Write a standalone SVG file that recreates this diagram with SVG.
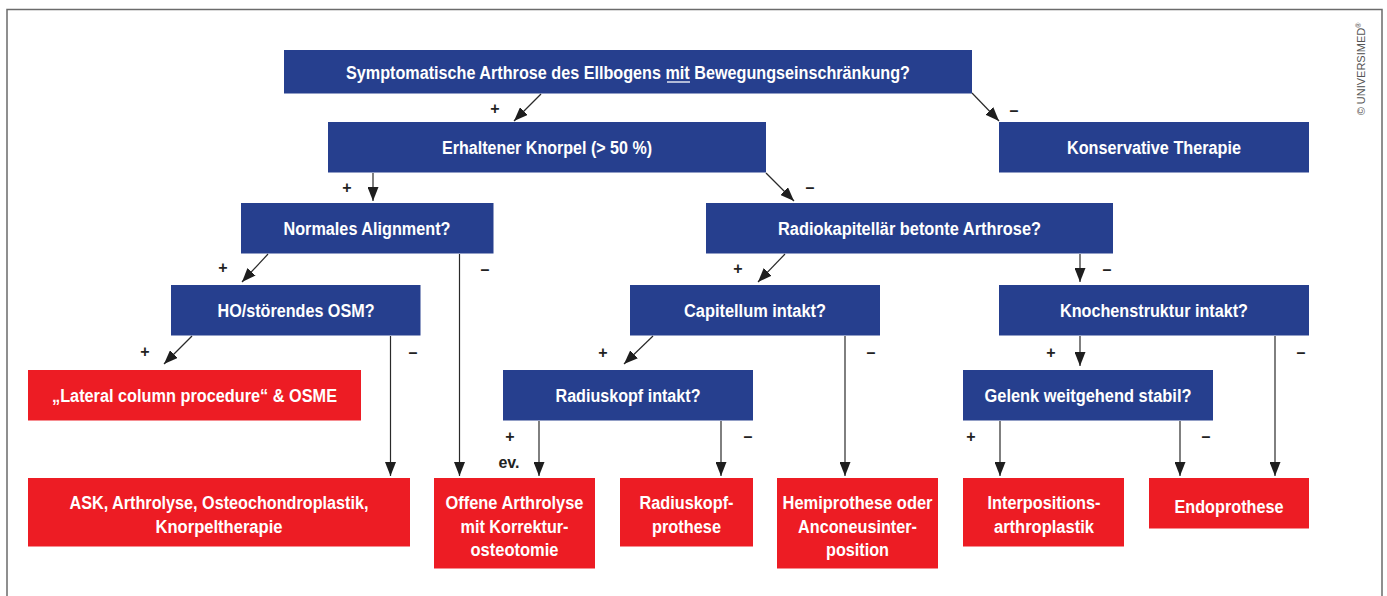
<svg xmlns="http://www.w3.org/2000/svg" width="1387" height="596" viewBox="0 0 1387 596">
<style>
.b{fill:#263f8e}
.r{fill:#ed1c24}
.t{font-family:"Liberation Sans",Arial,sans-serif;font-weight:bold;font-size:18px;fill:#fff;text-anchor:middle}
.l{font-family:"Liberation Sans",Arial,sans-serif;font-weight:bold;font-size:16px;fill:#222;text-anchor:middle}
.c{stroke:#2a2a2a;stroke-width:1.2;fill:none;marker-end:url(#ah)}
</style>
<defs>
<marker id="ah" markerUnits="userSpaceOnUse" markerWidth="14" markerHeight="11" refX="14" refY="5.5" orient="auto">
<path d="M0,0 L14,5.5 L0,11 z" fill="#1e1e1e"/>
</marker>
</defs>
<rect width="1387" height="596" fill="#fff"/>
<path d="M7,600 V9.5 H1382 V600" fill="none" stroke="#6b6b6b" stroke-width="1.5"/>
<text transform="translate(1365,69) rotate(-90)" font-family="'Liberation Sans',Arial,sans-serif" font-size="11" fill="#555" text-anchor="middle">© UNIVERSIMED<tspan font-size="7" dy="-4">®</tspan></text>

<g id="connectors">
<line class="c" x1="541" y1="94" x2="514" y2="121"/>
<line class="c" x1="972" y1="93" x2="999" y2="121"/>
<line class="c" x1="373" y1="173" x2="373" y2="201"/>
<line class="c" x1="766" y1="173" x2="794" y2="201"/>
<line class="c" x1="268" y1="254" x2="242" y2="282"/>
<line class="c" x1="459.5" y1="254" x2="459.5" y2="476"/>
<line class="c" x1="192" y1="336" x2="164" y2="364"/>
<line class="c" x1="390.5" y1="336" x2="390.5" y2="476"/>
<line class="c" x1="785" y1="254" x2="758" y2="282"/>
<line class="c" x1="1080" y1="254" x2="1080" y2="282"/>
<line class="c" x1="653" y1="336" x2="624" y2="364"/>
<line class="c" x1="845" y1="336" x2="845" y2="476"/>
<line class="c" x1="1080" y1="336" x2="1080" y2="366"/>
<line class="c" x1="1275" y1="336" x2="1275" y2="476"/>
<line class="c" x1="539" y1="421" x2="539" y2="476"/>
<line class="c" x1="721" y1="421" x2="721" y2="476"/>
<line class="c" x1="1000" y1="421" x2="1000" y2="476"/>
<line class="c" x1="1180" y1="421" x2="1180" y2="476"/>
<text class="l" x="495" y="114">+</text>
<text class="l" x="1014" y="116">–</text>
<text class="l" x="347" y="193">+</text>
<text class="l" x="810" y="193">–</text>
<text class="l" x="223" y="273">+</text>
<text class="l" x="485" y="275">–</text>
<text class="l" x="145" y="357">+</text>
<text class="l" x="413" y="358">–</text>
<text class="l" x="738" y="274">+</text>
<text class="l" x="1107" y="275">–</text>
<text class="l" x="603" y="358">+</text>
<text class="l" x="871" y="358">–</text>
<text class="l" x="1051" y="358">+</text>
<text class="l" x="1301" y="358">–</text>
<text class="l" x="510" y="442">+</text>
<text class="l" x="509" y="468" font-size="17" textLength="21" lengthAdjust="spacingAndGlyphs">ev.</text>
<text class="l" x="748" y="442">–</text>
<text class="l" x="971" y="442">+</text>
<text class="l" x="1206" y="442">–</text>
</g>

<g id="n-top">
<rect class="b" x="284" y="50" width="688" height="43.5"/>
<text class="t" x="628" y="78.5" textLength="564" lengthAdjust="spacingAndGlyphs">Symptomatische Arthrose des Ellbogens mit Bewegungseinschränkung?</text>
<line x1="667" y1="82" x2="690" y2="82" stroke="#fff" stroke-width="1.3"/>
</g>
<g id="n-knorpel">
<rect class="b" x="328" y="122" width="438" height="50.5"/>
<text class="t" x="547" y="154" textLength="210" lengthAdjust="spacingAndGlyphs">Erhaltener Knorpel (&gt; 50 %)</text>
</g>
<g id="n-konservativ">
<rect class="b" x="999" y="122" width="310" height="50.5"/>
<text class="t" x="1154" y="154" textLength="174" lengthAdjust="spacingAndGlyphs">Konservative Therapie</text>
</g>
<g id="n-alignment">
<rect class="b" x="241" y="203" width="252.5" height="50.5"/>
<text class="t" x="367" y="235" textLength="167" lengthAdjust="spacingAndGlyphs">Normales Alignment?</text>
</g>
<g id="n-radiokap">
<rect class="b" x="706" y="203" width="407" height="50.5"/>
<text class="t" x="909.5" y="235" textLength="263" lengthAdjust="spacingAndGlyphs">Radiokapitellär betonte Arthrose?</text>
</g>
<g id="n-ho">
<rect class="b" x="171" y="285" width="249.5" height="50.5"/>
<text class="t" x="296" y="317" textLength="157" lengthAdjust="spacingAndGlyphs">HO/störendes OSM?</text>
</g>
<g id="n-capitellum">
<rect class="b" x="630" y="285" width="250" height="50.5"/>
<text class="t" x="755" y="317" textLength="142" lengthAdjust="spacingAndGlyphs">Capitellum intakt?</text>
</g>
<g id="n-knochen">
<rect class="b" x="999" y="285" width="310" height="50.5"/>
<text class="t" x="1154" y="317" textLength="188" lengthAdjust="spacingAndGlyphs">Knochenstruktur intakt?</text>
</g>
<g id="n-lateral">
<rect class="r" x="28" y="370" width="333" height="50.5"/>
<text class="t" x="194.5" y="402" textLength="285" lengthAdjust="spacingAndGlyphs">„Lateral column procedure“ &amp; OSME</text>
</g>
<g id="n-radiuskopf">
<rect class="b" x="503" y="370" width="250" height="50.5"/>
<text class="t" x="628" y="402" textLength="145" lengthAdjust="spacingAndGlyphs">Radiuskopf intakt?</text>
</g>
<g id="n-gelenk">
<rect class="b" x="963" y="370" width="250" height="50.5"/>
<text class="t" x="1088" y="402" textLength="207" lengthAdjust="spacingAndGlyphs">Gelenk weitgehend stabil?</text>
</g>
<g id="n-ask">
<rect class="r" x="28" y="478" width="382" height="68.5"/>
<text class="t" x="219" y="509" textLength="299" lengthAdjust="spacingAndGlyphs">ASK, Arthrolyse, Osteochondroplastik,</text>
<text class="t" x="219" y="533" textLength="127" lengthAdjust="spacingAndGlyphs">Knorpeltherapie</text>
</g>
<g id="n-offene">
<rect class="r" x="434" y="478" width="161" height="90.5"/>
<text class="t" x="514.5" y="509" textLength="138" lengthAdjust="spacingAndGlyphs">Offene Arthrolyse</text>
<text class="t" x="514.5" y="533" textLength="108" lengthAdjust="spacingAndGlyphs">mit Korrektur-</text>
<text class="t" x="514.5" y="556" textLength="88" lengthAdjust="spacingAndGlyphs">osteotomie</text>
</g>
<g id="n-rkprothese">
<rect class="r" x="620" y="478" width="133" height="68.5"/>
<text class="t" x="686.5" y="509" textLength="94" lengthAdjust="spacingAndGlyphs">Radiuskopf-</text>
<text class="t" x="686.5" y="533" textLength="69" lengthAdjust="spacingAndGlyphs">prothese</text>
</g>
<g id="n-hemi">
<rect class="r" x="777" y="478" width="161" height="90.5"/>
<text class="t" x="857.5" y="509" textLength="150" lengthAdjust="spacingAndGlyphs">Hemiprothese oder</text>
<text class="t" x="857.5" y="533" textLength="119" lengthAdjust="spacingAndGlyphs">Anconeusinter-</text>
<text class="t" x="857.5" y="556" textLength="63" lengthAdjust="spacingAndGlyphs">position</text>
</g>
<g id="n-interposition">
<rect class="r" x="963" y="478" width="161" height="68.5"/>
<text class="t" x="1044" y="509" textLength="113" lengthAdjust="spacingAndGlyphs">Interpositions-</text>
<text class="t" x="1044" y="533" textLength="100" lengthAdjust="spacingAndGlyphs">arthroplastik</text>
</g>
<g id="n-endo">
<rect class="r" x="1149" y="478" width="160" height="50.5"/>
<text class="t" x="1229" y="512.5" textLength="109" lengthAdjust="spacingAndGlyphs">Endoprothese</text>
</g>
</svg>
